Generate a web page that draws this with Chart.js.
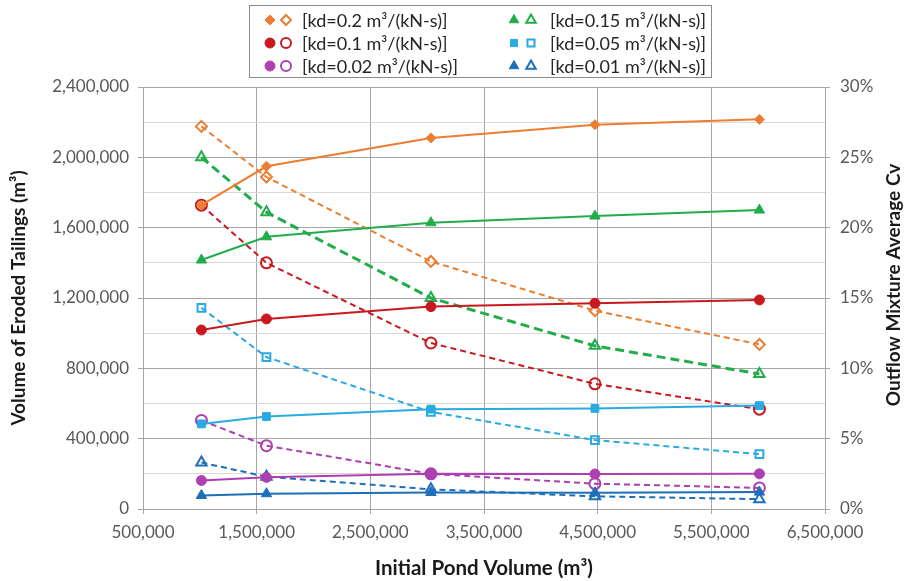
<!DOCTYPE html>
<html>
<head>
<meta charset="utf-8">
<script src="https://cdn.jsdelivr.net/npm/chart.js@4.4.1/dist/chart.umd.min.js"></script>
<style>
  html, body { margin: 0; padding: 0; background: #ffffff; }
  #wrap { width: 908px; height: 581px; position: relative; }
</style>
</head>
<body>
<div id="wrap"><canvas id="c" width="908" height="581"></canvas></div>
<script>
// ---- data ----
const pondVolume = [1014000, 1586000, 3033000, 4476000, 5923000];

// Volume of eroded tailings (m3) – left axis, solid lines, filled markers
const volKd02  = [1728000, 1949000, 2110000, 2186000, 2216000];
const volKd015 = [1416000, 1548000, 1628000, 1666000, 1700000];
const volKd01  = [1018000, 1081000, 1151000, 1170000, 1189000];
const volKd005 = [484000, 526000, 568000, 572000, 588000];
const volKd002 = [162000, 180000, 200000, 199000, 200000];
const volKd001 = [77000, 87000, 94000, 92000, 96000];

// Outflow mixture average Cv (%) – right axis, dashed lines, open markers
const cvKd02  = [27.2, 23.6, 17.6, 14.1, 11.7];
const cvKd015 = [25.0, 21.1, 15.0, 11.6, 9.6];
const cvKd01  = [21.6, 17.5, 11.8, 8.9, 7.1];
const cvKd005 = [14.3, 10.8, 6.9, 4.9, 3.9];
const cvKd002 = [6.3, 4.5, 2.5, 1.8, 1.5];
const cvKd001 = [3.3, 2.3, 1.4, 0.9, 0.7];

const seriesLabels = [
  '[kd=0.2 m³/(kN-s)]', '[kd=0.15 m³/(kN-s)]', '[kd=0.1 m³/(kN-s)]',
  '[kd=0.05 m³/(kN-s)]', '[kd=0.02 m³/(kN-s)]', '[kd=0.01 m³/(kN-s)]'
];
const xTitle = 'Initial Pond Volume (m³)';
const yTitle = 'Volume of Eroded Tailings (m³)';
const y1Title = 'Outflow Mixture Average Cv';

// ---- styling ----
const FONT = 'Lato';
const colors = ['#ED7D31', '#22AD4B', '#C8191E', '#29AAE1', '#AE3FB0', '#1E6FBA'];
const shapes = ['rectRot', 'triangle', 'circle', 'rect', 'circle', 'triangle'];
const volSets = [volKd02, volKd015, volKd01, volKd005, volKd002, volKd001];
const cvSets = [cvKd02, cvKd015, cvKd01, cvKd005, cvKd002, cvKd001];

const pts = arr => arr.map((v, i) => ({ x: pondVolume[i], y: v }));

const datasets = [];
for (let i = 0; i < 6; i++) {
  const sq = shapes[i] === 'rect';
  datasets.push({
    label: seriesLabels[i] + ' volume',
    data: pts(volSets[i]),
    yAxisID: 'y',
    borderColor: colors[i],
    backgroundColor: colors[i],
    borderWidth: 2,
    pointStyle: shapes[i],
    pointRadius: shapes[i] === 'triangle' ? 6 : (sq ? 5.5 : 5),
    pointBackgroundColor: colors[i],
    pointBorderColor: colors[i],
    pointBorderWidth: 1,
    tension: 0
  });
}
for (let i = 0; i < 6; i++) {
  const green = i === 1;
  datasets.push({
    label: seriesLabels[i] + ' Cv',
    data: pts(cvSets[i]),
    yAxisID: 'y1',
    borderColor: colors[i],
    backgroundColor: 'rgba(255,255,255,0)',
    borderWidth: green ? 3 : 2,
    borderDash: green ? [9, 5] : [6, 4],
    pointStyle: shapes[i],
    pointRadius: shapes[i] === 'triangle' ? 6 : 5.5,
    pointBackgroundColor: 'rgba(255,255,255,0)',
    pointBorderColor: colors[i],
    pointBorderWidth: 2,
    tension: 0
  });
}

const decor = {
  id: 'decor',
  afterDraw(chart) {
    const ctx = chart.ctx;
    const H = Chart.helpers;
    ctx.save();
    // legend box
    ctx.strokeStyle = '#8c8c8c';
    ctx.lineWidth = 1;
    ctx.strokeRect(249.5, 5.5, 462, 72);
    const rows = [20, 43, 66];
    const order = [[0, 0, 0], [2, 0, 1], [4, 0, 2], [1, 1, 0], [3, 1, 1], [5, 1, 2]];
    const colX = [[270, 286, 302], [514, 531, 550]];
    ctx.font = '18px ' + FONT;
    ctx.textBaseline = 'middle';
    ctx.textAlign = 'left';
    for (const [s, c, r] of order) {
      const y = rows[r];
      const rad = shapes[s] === 'triangle' ? 5.5 : 5;
      ctx.fillStyle = colors[s];
      ctx.strokeStyle = colors[s];
      ctx.lineWidth = 1;
      H.drawPoint(ctx, { pointStyle: shapes[s], rotation: 0, radius: rad, borderWidth: 1 }, colX[c][0], y);
      ctx.fillStyle = 'rgba(255,255,255,0)';
      ctx.lineWidth = 2;
      H.drawPoint(ctx, { pointStyle: shapes[s], rotation: 0, radius: rad, borderWidth: 2 }, colX[c][1], y);
      ctx.fillStyle = '#262626';
      ctx.fillText(seriesLabels[s], colX[c][2], y + 1);
    }
    // right axis title (reads bottom to top)
    ctx.translate(894, 285);
    ctx.rotate(-Math.PI / 2);
    ctx.font = 'bold 19px ' + FONT;
    ctx.textAlign = 'center';
    ctx.textBaseline = 'middle';
    ctx.fillStyle = '#1a1a1a';
    ctx.fillText(y1Title, 0, 0);
    ctx.restore();
  }
};

const tickFont = { family: FONT, size: 17 };

new Chart(document.getElementById('c'), {
  type: 'line',
  data: { datasets },
  plugins: [decor],
  options: {
    responsive: false,
    animation: false,
    layout: { padding: { top: 87, left: 0, right: 0, bottom: 0 } },
    plugins: { legend: { display: false }, tooltip: { enabled: false } },
    scales: {
      x: {
        type: 'linear',
        min: 500000, max: 6500000,
        afterFit: s => { s.height = 72; },
        ticks: {
          stepSize: 1000000,
          color: '#595959',
          font: tickFont,
          padding: 8,
          maxRotation: 0,
          callback: v => Number(v).toLocaleString('en-US')
        },
        grid: { color: '#a6a6a6', tickColor: '#a6a6a6', tickLength: 5 },
        border: { color: '#a6a6a6' },
        title: { display: true, text: xTitle, color: '#1a1a1a', font: { family: FONT, size: 20.5, weight: 'bold' }, padding: { top: 0, bottom: 0 } }
      },
      y: {
        position: 'left',
        min: 0, max: 2400000,
        afterFit: s => { s.width = 143; },
        ticks: {
          stepSize: 200000,
          color: '#595959',
          font: tickFont,
          padding: 9,
          autoSkip: false,
          callback: v => (v % 400000 === 0 ? Number(v).toLocaleString('en-US') : '')
        },
        grid: {
          color: c => (c.tick && c.tick.value % 400000 === 0 ? '#a6a6a6' : '#d9d9d9'),
          tickColor: c => (c.tick && c.tick.value % 400000 === 0 ? '#a6a6a6' : 'rgba(0,0,0,0)'),
          tickLength: 5
        },
        border: { color: '#a6a6a6' },
        title: { display: true, text: yTitle, color: '#1a1a1a', font: { family: FONT, size: 19, weight: 'bold' }, padding: { top: 7, bottom: 0 } }
      },
      y1: {
        position: 'right',
        min: 0, max: 30,
        afterFit: s => { s.width = 83; },
        ticks: {
          stepSize: 5,
          color: '#595959',
          font: tickFont,
          padding: 10,
          callback: v => v + '%'
        },
        grid: { drawOnChartArea: false, tickColor: '#a6a6a6', tickLength: 5 },
        border: { color: '#a6a6a6' }
      }
    }
  }
});
</script>
</body>
</html>
